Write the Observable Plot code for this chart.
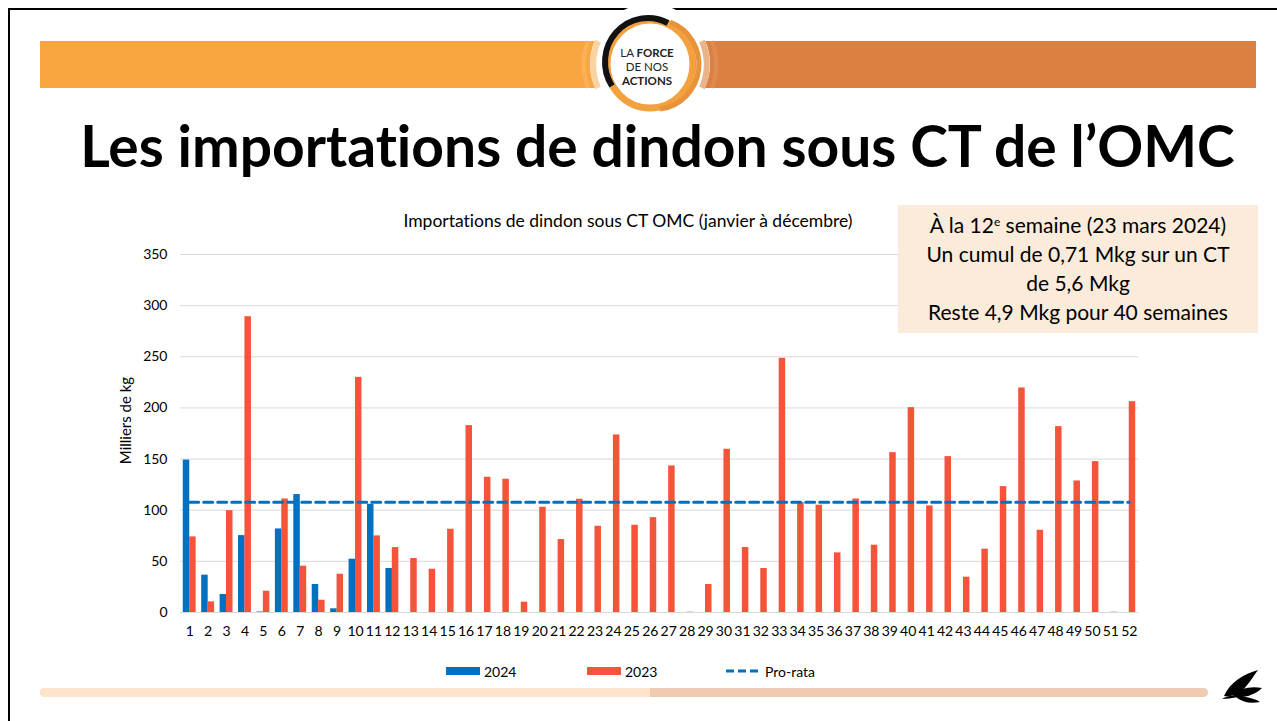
<!DOCTYPE html>
<html>
<head>
<meta charset="utf-8">
<script src="https://cdn.jsdelivr.net/npm/d3@7"></script>
<script src="https://cdn.jsdelivr.net/npm/@observablehq/plot@0.6"></script>
<style>
  html, body { margin: 0; padding: 0; background: #fff; }
  body { width: 1277px; height: 721px; overflow: hidden; font-family: Lato, "Open Sans", sans-serif; font-variant-ligatures: none; }
  #page { position: relative; width: 1277px; height: 721px; }
  #border { position: absolute; left: 8px; top: 8px; width: 1275px; height: 720px; border-left: 2px solid #000; border-top: 2px solid #000; }
  .abs { position: absolute; }
  #title { position: absolute; top: 111px; left: 0; width: 1277px; text-align: center; font-weight: 700; font-size: 50px; color: #000; white-space: nowrap; }
  #title span { display: inline-block; }
  #sub { position: absolute; top: 210px; left: 0; width: 1256px; text-align: center; font-size: 17.5px; color: #000; white-space: nowrap; }
  #box { position: absolute; left: 898px; top: 205px; width: 360px; height: 128px; background: #FBEBDB; text-align: center; font-size: 21px; line-height: 29px; color: #000; padding-top: 5px; box-sizing: border-box; }
  #box sup { font-size: 12px; vertical-align: top; position: relative; top: -3px; }
  #chart { position: absolute; left: 0; top: 240px; }
  .leg { position: absolute; top: 661px; font-size: 14px; color: #000; display: flex; align-items: center; height: 20px; }
  .sw { display: inline-block; width: 34px; height: 8px; margin-right: 4px; }
</style>
</head>
<body>
<div id="page">
  <div id="border"></div>
  <!-- header banner and logo -->
  <svg class="abs" style="left:0;top:0" width="1277" height="120">
    <rect x="40" y="41" width="570" height="47" fill="#F9A642"/>
    <rect x="690" y="41" width="566" height="47" fill="#DC8042"/>
    <ellipse cx="650" cy="64" rx="60" ry="60" fill="#fff"/>
    <path d="M 598 41 A 62 62 0 0 0 598 88" fill="none" stroke="#FBC888" stroke-width="6" opacity="0.8"/>
    <path d="M 588 41 A 70 70 0 0 0 588 88" fill="none" stroke="#FBB870" stroke-width="4" opacity="0.6"/>
    <path d="M 702 41 A 62 62 0 0 1 702 88" fill="none" stroke="#E8A06A" stroke-width="6" opacity="0.8"/>
    <path d="M 712 41 A 70 70 0 0 1 712 88" fill="none" stroke="#E49158" stroke-width="4" opacity="0.6"/>
    <ellipse cx="650" cy="64" rx="43" ry="44" fill="none" stroke="#F3A13F" stroke-width="7"/>
    <path d="M 612 86 A 43 44 0 0 1 668 23" fill="none" stroke="#111" stroke-width="6"/>
    <path d="M 670 22 A 44 45 0 0 1 660 109" fill="none" stroke="#E8923A" stroke-width="5"/>
    <ellipse cx="650" cy="64" rx="38" ry="39" fill="#fff"/>
    <text x="647" y="57" text-anchor="middle" font-size="11.5" font-family="Lato" fill="#222">LA <tspan font-weight="700">FORCE</tspan></text>
    <text x="647" y="71" text-anchor="middle" font-size="11.5" font-family="Lato" fill="#222">DE NOS</text>
    <text x="647" y="85" text-anchor="middle" font-size="11.5" font-family="Lato" font-weight="700" fill="#222">ACTIONS</text>
  </svg>
  <div id="title"><span id="titleText">Les importations de dindon sous CT de l’OMC</span></div>
  <div id="sub">Importations de dindon sous CT OMC (janvier à décembre)</div>
  <div id="chart"></div>
  <div id="box">À la 12<sup>e</sup> semaine (23 mars 2024)<br>Un cumul de 0,71 Mkg sur un CT<br>de 5,6 Mkg<br>Reste 4,9 Mkg pour 40 semaines</div>
  <div class="leg" style="left:446px"><span class="sw" style="background:#0070C0"></span>2024</div>
  <div class="leg" style="left:587px"><span class="sw" style="background:#F4553A"></span>2023</div>
  <div class="leg" style="left:726px"><svg width="34" height="8" style="margin-right:5px"><line x1="0" y1="4" x2="34" y2="4" stroke="#0070C0" stroke-width="3" stroke-dasharray="8,4"/></svg>Pro-rata</div>
  <!-- bottom bar and emblem -->
  <svg class="abs" style="left:0;top:660px" width="1277" height="61">
    <rect x="40" y="28" width="1168" height="9" rx="4.5" fill="#EFCBB3"/>
    <path d="M 44.5 28 H 650 V 37 H 44.5 A 4.5 4.5 0 0 1 44.5 28 Z" fill="#FDE4CA"/>
    <g fill="#000" transform="translate(1222,8)">
      <path d="M 2 28 C 8 14 22 6 36 2 C 30 10 26 18 18 24 C 12 28 6 29 2 28 Z"/>
      <path d="M 8 26 C 18 20 30 18 40 20 C 34 26 24 30 14 29 Z"/>
      <path d="M 14 29 C 22 28 32 30 38 34 C 28 36 20 34 14 29 Z"/>
      <path d="M 0 31 C 6 27 12 27 16 29 C 10 30 4 31 0 31 Z"/>
    </g>
  </svg>
</div>
<script>
// ---- data ----
const weeks = [1,2,3,4,5,6,7,8,9,10,11,12,13,14,15,16,17,18,19,20,21,22,23,24,25,26,
  27,28,29,30,31,32,33,34,35,36,37,38,39,40,41,42,43,44,45,46,47,48,49,50,51,52];
const weeks2024 = [1,2,3,4,5,6,7,8,9,10,11,12];
const values2024 = [149, 36.5, 17.6, 75.2, 0.5, 81.7, 115.3, 27.4, 3.6, 52.1, 105.8, 43];
const values2023 = [73.9, 10.4, 99.6, 289.2, 20.8, 111, 45.3, 12, 37.4, 229.9,
  74.9, 63.5, 52.8, 42.3, 81.4, 182.7, 132.2, 130.3, 10.1, 102.9,
  71.3, 110.7, 84.3, 173.6, 85.3, 92.8, 143.3, 0.3, 27.4, 159.6,
  63.5, 43, 248.5, 107.5, 104.9, 58.3, 111, 65.8, 156.3, 200.3,
  104.2, 152.4, 34.5, 61.9, 123.1, 219.5, 80.4, 181.7, 128.6, 147.5,
  0.3, 206.1];
const proRata = 107.7;
const yTicks = [0, 50, 100, 150, 200, 250, 300, 350];
const yLabel = "Milliers de kg";

const blue = "#0070C0", red = "#F4553A";

const d2024 = weeks2024.map((w, i) => ({week: w, value: values2024[i]}));
const d2023 = weeks.map((w, i) => ({week: w, value: values2023[i]}));
const dPro = weeks.map(w => ({week: w, value: proRata}));

const chart = Plot.plot({
  width: 1277,
  height: 400,
  marginLeft: 180,
  marginRight: 139,
  marginTop: 14,
  marginBottom: 28,
  style: {fontFamily: "Lato, sans-serif", fontSize: "14px", color: "#000", background: "transparent"},
  x: {type: "band", domain: weeks, paddingInner: 0.3, paddingOuter: 0.15, round: false},
  y: {domain: [0, 350]},
  marks: [
    Plot.gridY(yTicks, {stroke: "#D9D9D9", strokeOpacity: 1, strokeWidth: 1}),
    Plot.barY(d2024, {x: "week", y: "value", fill: blue, insetRight: 6.4}),
    Plot.barY(d2023, {x: "week", y: "value", fill: red, insetLeft: 6.4}),
    Plot.lineY(dPro, {x: "week", y: "value", stroke: blue, strokeWidth: 3, strokeDasharray: "9,5"}),
    Plot.axisX({tickSize: 0, tickPadding: 14, label: null, fontSize: 14}),
    Plot.axisY({ticks: yTicks, tickSize: 0, tickPadding: 13, label: null, fontSize: 14}),
    Plot.text([yLabel], {frameAnchor: "left", textAnchor: "middle", rotate: -90, dx: -54, dy: -13, fontSize: 15, fill: "#000"})
  ]
});
document.getElementById("chart").appendChild(chart);

// fit the title width to the slide layout
const t = document.getElementById("titleText");
const w = t.getBoundingClientRect().width;
const target = 1155;
document.getElementById("title").style.fontSize = (50 * target / w) + "px";
document.getElementById("title").style.left = "19px";
</script>
</body>
</html>
